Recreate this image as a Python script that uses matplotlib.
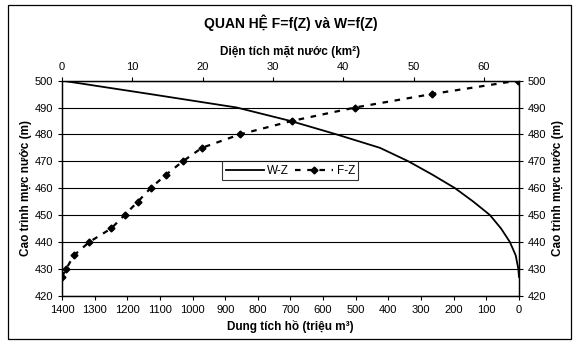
import matplotlib.pyplot as plt
from matplotlib.patches import Rectangle

plt.rcParams['font.family'] = ['Liberation Sans', 'DejaVu Sans']

# Cao trình (m) và dung tích hồ W (triệu m3)
z_w = [427, 430, 435, 440, 445, 450, 455, 460, 465, 470, 475, 480, 485, 490, 495, 500]
w = [0, 2, 10, 28, 55, 89, 140, 196, 265, 339, 426, 559, 700, 865, 1130, 1400]

# Cao trình (m) và diện tích mặt nước F (km2)
z_f = [427, 430, 435, 440, 445, 450, 455, 460, 465, 470, 475, 480, 485, 490, 495, 500]
f = [0, 0.6, 1.7, 3.9, 7.0, 8.9, 10.8, 12.6, 14.8, 17.2, 19.9, 25.3, 32.7, 41.7, 52.6, 64.8]

fig = plt.figure(figsize=(5.76, 3.46), dpi=100)
ax = fig.add_axes([0.1076, 0.1454, 0.7934, 0.6216])

# khung ngoài
fig.patches.append(Rectangle((0.014, 0.02), 0.978, 0.965, transform=fig.transFigure,
                             fill=False, edgecolor='black', linewidth=0.9))

lw, = ax.plot(w, z_w, color='black', linewidth=1.3, label='W-Z')
ax.set_xlim(1400, 0)
ax.set_ylim(420, 500)
ax.set_xticks(range(0, 1401, 100))
ax.set_yticks(range(420, 501, 10))
ax.grid(axis='y', color='black', linewidth=0.8)
ax.set_axisbelow(True)
ax.tick_params(labelsize=8, direction='out', length=3, right=True, labelright=True)
ax.set_xlabel('Dung tích hồ (triệu m³)', fontsize=8.5, fontweight='bold', labelpad=4)
ax.set_ylabel('Cao trình mực nước (m)', fontsize=8.5, fontweight='bold', labelpad=2)
sec = ax.secondary_yaxis('right')
sec.set_yticks([])
sec.set_ylabel('Cao trình mực nước (m)', fontsize=8.5, fontweight='bold', labelpad=24)
sec.spines['right'].set_visible(False)

ax2 = ax.twiny()
lf, = ax2.plot(f, z_f, color='black', linewidth=1.6, linestyle=(0, (2.5, 3)),
               marker='D', markersize=3.5, label='F-Z')
ax2.set_xlim(0, 65)
ax2.set_xticks(range(0, 61, 10))
ax2.tick_params(labelsize=8, direction='out', length=3)
ax2.set_xlabel('Diện tích mặt nước (km²)', fontsize=8.5, fontweight='bold', labelpad=5)

for a in (ax, ax2):
    for s in a.spines.values():
        s.set_linewidth(0.9)

leg = ax2.legend(handles=[lw, lf], loc='center', bbox_to_anchor=(0.5, 0.58), ncol=2,
                 fontsize=8.5, frameon=True, fancybox=False, edgecolor='black',
                 handlelength=3.2, handletextpad=0.3, columnspacing=0.5,
                 borderpad=0.3)
leg.get_frame().set_linewidth(0.8)

fig.text(0.505, 0.935, 'QUAN HỆ F=f(Z) và W=f(Z)', ha='center', va='center',
         fontsize=10, fontweight='bold')

fig.savefig('out.png', dpi=100)
